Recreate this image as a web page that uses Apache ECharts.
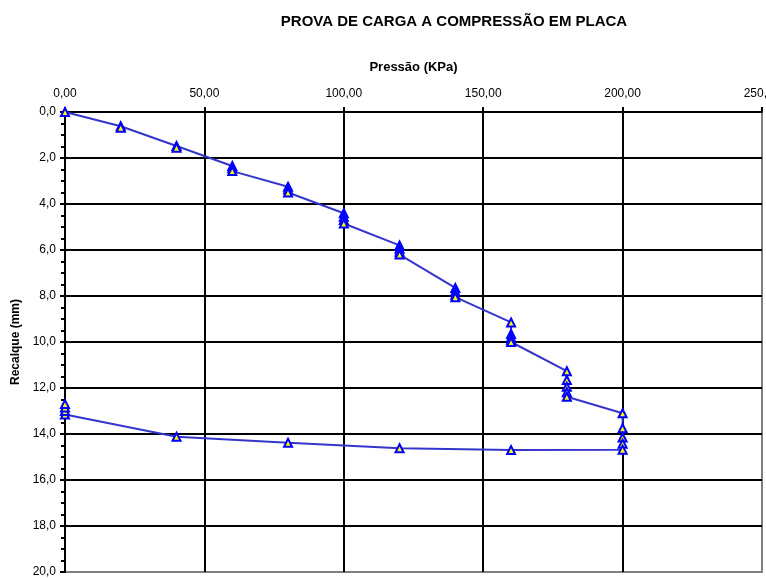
<!DOCTYPE html>
<html>
<head>
<meta charset="utf-8">
<title>Prova de carga</title>
<script src="https://cdn.jsdelivr.net/npm/echarts/dist/echarts.min.js"></script>
<style>
  html, body { margin: 0; padding: 0; background: #fff; }
  #chart { width: 766px; height: 578px; }
</style>
</head>
<body>
<div id="chart"></div>
<script>
// leituras em ordem (carga e descarga)
const pressao = [0, 20, 20, 40, 40, 60, 60, 60, 80, 80, 80,
  100, 100, 100, 100, 120, 120, 120, 120, 140, 140, 140, 140,
  160, 160, 160, 160, 160, 180, 180, 180, 180, 180,
  200, 200, 200, 200, 200, 160, 120, 80, 40, 0, 0, 0, 0];
const recalque = [0, 0.62, 0.68, 1.48, 1.55, 2.35, 2.45, 2.57, 3.25, 3.37, 3.5,
  4.4, 4.55, 4.7, 4.85, 5.8, 5.95, 6.08, 6.2, 7.65, 7.8, 7.95, 8.05,
  9.15, 9.65, 9.8, 9.9, 10.0, 11.27, 11.65, 11.95, 12.18, 12.38,
  13.1, 13.75, 14.15, 14.42, 14.68, 14.7, 14.62, 14.38, 14.12, 13.15, 13.0, 12.85, 12.7];

const titulo = "PROVA DE CARGA A COMPRESSÃO EM PLACA";
const nomeX = "Pressão (KPa)";
const nomeY = "Recalque (mm)";

const fonte = "Arial, 'Liberation Sans', sans-serif";
const chart = echarts.init(document.getElementById("chart"));

const option = {
  animation: false,
  title: {
    text: titulo,
    left: 449,
    top: 9,
    textAlign: "center",
    textStyle: { fontFamily: fonte, fontSize: 15, fontWeight: "bold", color: "#000" }
  },
  grid: {
    left: 65, right: 4, top: 112, bottom: 6,
    containLabel: false,
    outerBoundsMode: "none",
    show: true,
    borderColor: "#808080",
    borderWidth: 2
  },
  xAxis: {
    type: "value",
    position: "top",
    min: 0, max: 250, interval: 50,
    name: nomeX,
    nameLocation: "middle",
    nameGap: 38,
    nameTextStyle: { fontFamily: fonte, fontSize: 13, fontWeight: "bold", color: "#000" },
    axisLine: { show: true, lineStyle: { color: "#000", width: 2 } },
    axisTick: { show: true, length: 5, lineStyle: { color: "#000", width: 2 } },
    axisLabel: {
      margin: 12,
      fontFamily: fonte, fontSize: 12, color: "#000",
      formatter: v => v.toFixed(2).replace(".", ",")
    },
    splitLine: { show: true, showMaxLine: false, lineStyle: { color: "#000", width: 2 } }
  },
  yAxis: {
    type: "value",
    inverse: true,
    min: 0, max: 20, interval: 2,
    name: nomeY,
    nameLocation: "middle",
    nameGap: 39,
    nameRotate: 90,
    nameTextStyle: { fontFamily: fonte, fontSize: 12, fontWeight: "bold", color: "#000" },
    axisLine: { show: true, lineStyle: { color: "#000", width: 2 } },
    axisTick: { show: true, length: 5, lineStyle: { color: "#000", width: 2 } },
    minorTick: { show: true, splitNumber: 4, length: 4, lineStyle: { color: "#000", width: 2 } },
    axisLabel: {
      margin: 9,
      fontFamily: fonte, fontSize: 12, color: "#000",
      formatter: v => v.toFixed(1).replace(".", ",")
    },
    splitLine: { show: true, showMaxLine: false, lineStyle: { color: "#000", width: 2 } }
  },
  series: [{
    type: "line",
    data: pressao.map((p, i) => [p, recalque[i]]),
    lineStyle: { color: "#3535cc", width: 2 },
    symbol: "triangle",
    symbolSize: 8,
    itemStyle: { color: "#ffff00", borderColor: "#0000ff", borderWidth: 2 },
    z: 5
  }]
};

chart.setOption(option);
</script>
</body>
</html>
